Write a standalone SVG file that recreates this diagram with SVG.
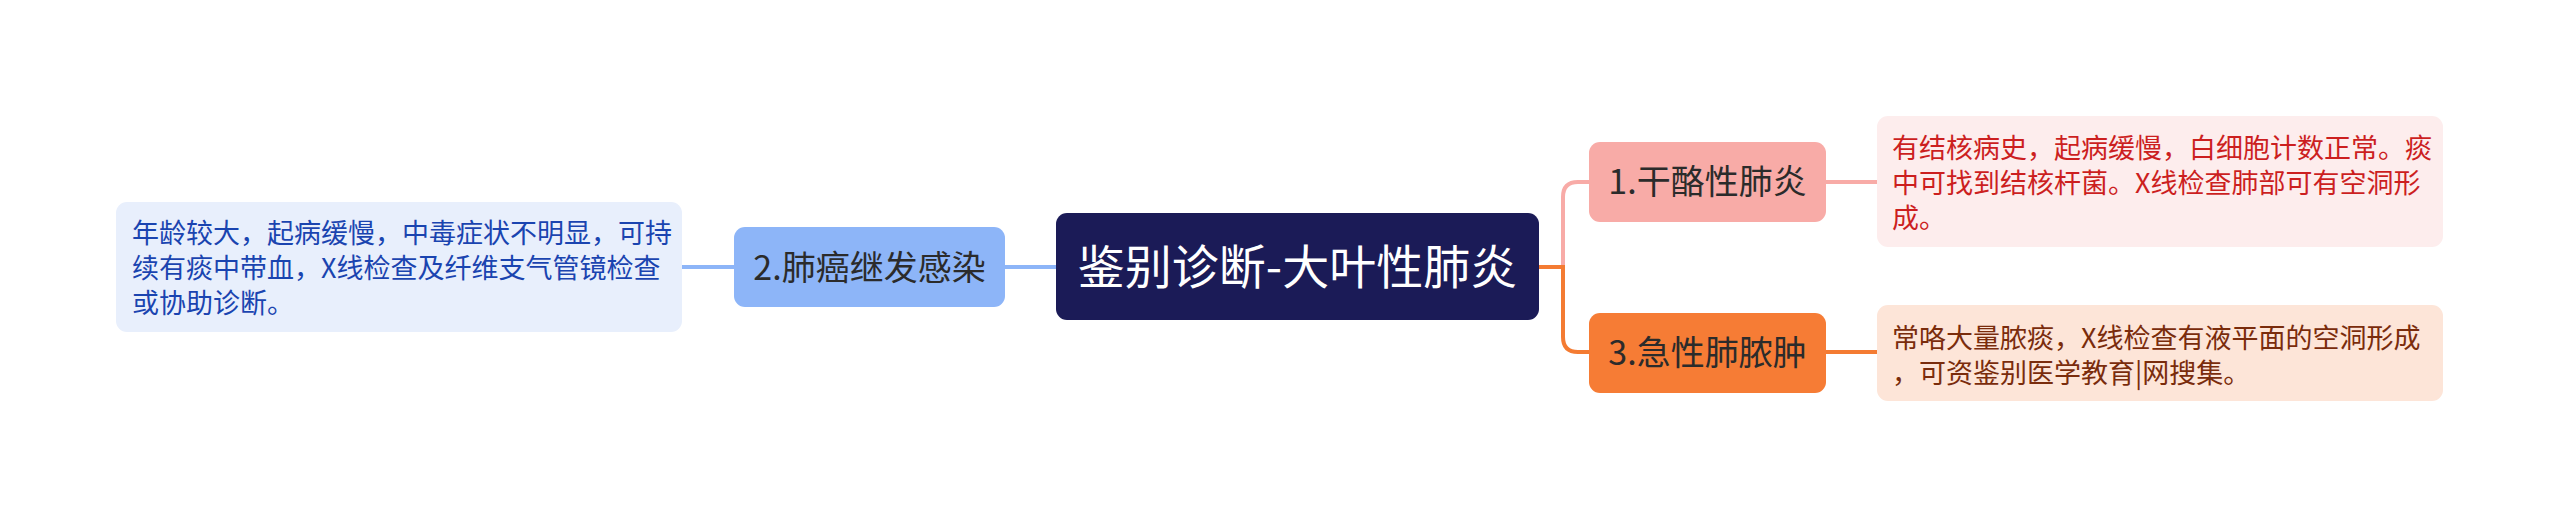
<svg xmlns="http://www.w3.org/2000/svg" width="2560" height="517" viewBox="0 0 2560 517">
<style>
text{font-family:"Noto Sans CJK SC","Noto Sans",sans-serif;}
.conn{fill:none;stroke-width:4;stroke-linecap:round;}
.topic{font-size:34px;fill:#2b2b2b;text-anchor:middle;}
.leaf{font-size:27px;}
</style>
<rect width="2560" height="517" fill="#ffffff"/>
<g id="connectors">
<path class="conn" stroke="#8db5f8" d="M1056 267 H1005"/>
<path class="conn" stroke="#8db5f8" d="M734 267 H682"/>
<path class="conn" stroke="#f8aba7" d="M1563 267 V197 Q1563 182 1578 182 H1589"/>
<path class="conn" stroke="#f47b32" d="M1539 267 H1563 V337 Q1563 352 1578 352 H1589"/>
<path class="conn" stroke="#f8aba7" d="M1826 182 H1877"/>
<path class="conn" stroke="#f47b32" d="M1826 352 H1877"/>
</g>
<g id="center">
<rect x="1056" y="213" width="483" height="107" rx="11" fill="#1b1b57"/>
<text x="1297.5" y="284" font-size="47" fill="#ffffff" text-anchor="middle">鉴别诊断-大叶性肺炎</text>
</g>
<g id="node2">
<rect x="734" y="227" width="271" height="80" rx="11" fill="#8db5f8"/>
<text class="topic" x="869.5" y="280">2.肺癌继发感染</text>
</g>
<g id="leaf2">
<rect x="116" y="202" width="566" height="130" rx="11" fill="#e8effc"/>
<text class="leaf" fill="#1a44b0"><tspan x="132" y="243">年龄较大，起病缓慢，中毒症状不明显，可持</tspan><tspan x="132" y="278">续有痰中带血，X线检查及纤维支气管镜检查</tspan><tspan x="132" y="313">或协助诊断。</tspan></text>
</g>
<g id="node1">
<rect x="1589" y="142" width="237" height="80" rx="11" fill="#f8aba7"/>
<text class="topic" x="1707.5" y="194">1.干酪性肺炎</text>
</g>
<g id="leaf1">
<rect x="1877" y="116" width="566" height="131" rx="11" fill="#fdeded"/>
<text class="leaf" fill="#cc1f1f"><tspan x="1892" y="158">有结核病史，起病缓慢，白细胞计数正常。痰</tspan><tspan x="1892" y="193">中可找到结核杆菌。X线检查肺部可有空洞形</tspan><tspan x="1892" y="228">成。</tspan></text>
</g>
<g id="node3">
<rect x="1589" y="313" width="237" height="80" rx="11" fill="#f67c35"/>
<text class="topic" x="1707.5" y="365">3.急性肺脓肿</text>
</g>
<g id="leaf3">
<rect x="1877" y="305" width="566" height="96" rx="11" fill="#fde5d8"/>
<text class="leaf" fill="#7a2c0c"><tspan x="1892" y="348">常咯大量脓痰，X线检查有液平面的空洞形成</tspan><tspan x="1892" y="383">，可资鉴别医学教育|网搜集。</tspan></text>
</g>
</svg>
